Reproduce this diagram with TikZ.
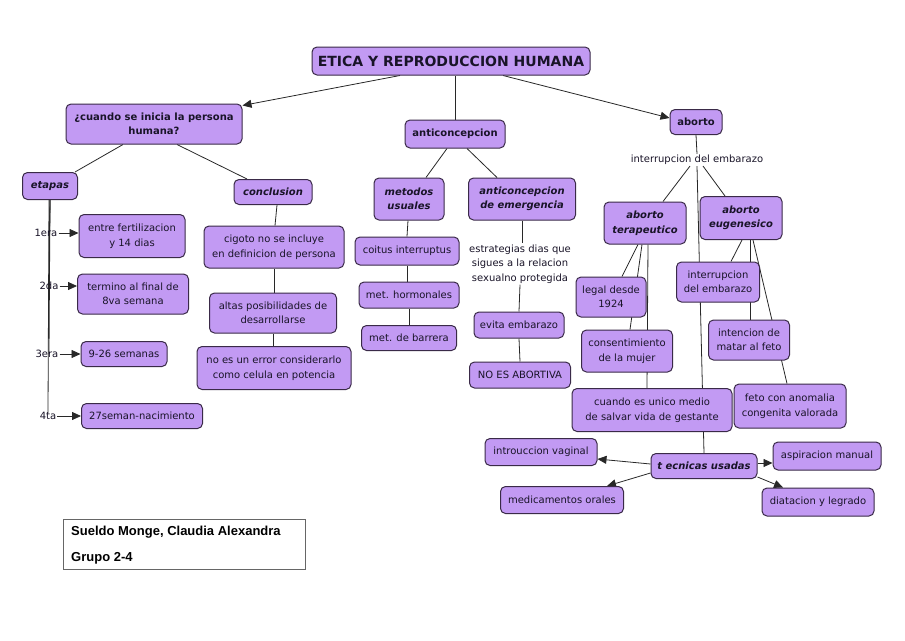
\documentclass[tikz,border=0pt]{standalone}
\usepackage{fontspec}
\setmainfont{DejaVu Sans}
\newfontfamily\authfont{Liberation Sans}
\usetikzlibrary{arrows.meta,backgrounds}
\definecolor{boxfill}{RGB}{194,154,243}
\definecolor{boxline}{RGB}{58,42,72}
\definecolor{txt}{RGB}{25,20,40}
\definecolor{conn}{RGB}{40,40,40}
\tikzset{
  sz/.style 2 args={minimum width=#1pt,minimum height=#2pt},
  box/.style={draw=boxline, line width=1pt, fill=boxfill, rounded corners=5pt,
    align=center, text=txt, inner sep=1pt, font=\fontsize{10}{14.5}\selectfont},
  bbox/.style={box, font=\fontsize{10}{14.5}\selectfont\bfseries},
  ibox/.style={box, font=\fontsize{10}{14.5}\selectfont\bfseries\itshape},
  lbl/.style={align=center, text=txt, inner sep=1pt, font=\fontsize{10}{14.5}\selectfont},
  link/.style={draw=conn, line width=0.8pt},
  arr/.style={link, -{Triangle[length=9pt,width=8pt]}},
}
\begin{document}
\begin{tikzpicture}[x=1pt,y=-1pt]
\useasboundingbox (0,0) rectangle (905,640);
% main nodes
\node[bbox, sz={278}{28}, font=\fontsize{14}{16}\selectfont\bfseries] (title) at (451,61) {ETICA Y REPRODUCCION HUMANA};
\node[bbox, sz={176}{40}] (q) at (154,124) {¿cuando se inicia la persona\\humana?};
\node[bbox, sz={100}{28}] (anti) at (455,134) {anticoncepcion};
\node[bbox, sz={52}{25}] (aborto) at (696,122) {aborto};
\node[lbl] (lab) at (697,160) {interrupcion del embarazo};
\node[ibox, sz={55}{27}] (etapas) at (50,186) {etapas};
\node[ibox, sz={78}{25}] (conc) at (273,192) {conclusion};
\node[ibox, sz={70}{42}] (metodos) at (409,199) {metodos\\usuales};
\node[ibox, sz={107}{42}] (emerg) at (522,199) {anticoncepcion\\de emergencia};
\node[ibox, sz={82}{42}] (terap) at (645,223) {aborto\\terapeutico};
\node[ibox, sz={82}{43}] (eug) at (741,218) {aborto\\eugenesico};
% etapas
\node[lbl] (l1) at (46,233) {1era};
\node[lbl] (l2) at (49,286) {2da};
\node[lbl] (l3) at (47,354) {3era};
\node[lbl] (l4) at (48,416) {4ta};
\node[box, sz={106}{43}] (e1) at (132,236) {entre fertilizacion\\y 14 dias};
\node[box, sz={111}{40}] (e2) at (133,294) {termino al final de\\8va semana};
\node[box, sz={86}{25}] (e3) at (124,354) {9-26 semanas};
\node[box, sz={121}{25}] (e4) at (142,416) {27seman-nacimiento};
% conclusion
\node[box, sz={140}{42}] (cig) at (274,247) {cigoto no se incluye\\en definicion de persona};
\node[box, sz={127}{40}] (altas) at (273,313) {altas posibilidades de\\desarrollarse};
\node[box, sz={154}{43}] (noerr) at (274,368) {no es un error considerarlo\\como celula en potencia};
% metodos
\node[box, sz={104}{28}] (coitus) at (407,251) {coitus interruptus};
\node[box, sz={100}{26}] (horm) at (409,295) {met. hormonales};
\node[box, sz={95}{25}] (barr) at (409,338) {met. de barrera};
% emergencia
\node[lbl] (lab2) at (520,264) {estrategias dias que\\sigues a la relacion\\sexualno protegida};
\node[box, sz={90}{26}] (evita) at (519,325) {evita embarazo};
\node[box, sz={101}{26}] (noab) at (520,375) {NO ES ABORTIVA};
% terapeutico
\node[box, sz={70}{40}] (legal) at (611,297) {legal desde\\1924};
\node[box, sz={91}{42}] (cons) at (627,351) {consentimiento\\de la mujer};
\node[box, sz={160}{43}] (unico) at (652,410) {cuando es unico medio\\de salvar vida de gestante};
% eugenesico
\node[box, sz={83}{40}] (interr) at (718,282) {interrupcion\\del embarazo};
\node[box, sz={81}{40}] (inten) at (749,340) {intencion de\\matar al feto};
\node[box, sz={112}{44}] (feto) at (790,406) {feto con anomalia\\congenita valorada};
% tecnicas
\node[ibox, sz={106}{25}] (tec) at (704,466) {t ecnicas usadas};
\node[box, sz={112}{27}] (intro) at (541,452) {introuccion vaginal};
\node[box, sz={108}{28}] (asp) at (827,456) {aspiracion manual};
\node[box, sz={123}{27}] (med) at (562,500) {medicamentos orales};
\node[box, sz={112}{28}] (diat) at (818,502) {diatacion y legrado};
% author
\node[draw=black!60, line width=0.8pt, sz={242}{50}] (auth) at (184,544) {};
\node[anchor=west, inner sep=0pt, font=\authfont\fontsize{13}{15}\selectfont\bfseries] (a1) at (71,532) {Sueldo Monge, Claudia Alexandra};
\node[anchor=west, inner sep=0pt, font=\authfont\fontsize{13}{15}\selectfont\bfseries] (a2) at (71,558) {Grupo 2-4};

\begin{pgfonlayer}{background}
\fill[white] (0,0) rectangle (905,640);
% title links
\draw[arr] ([xshift=-51pt]title.south) -- ([yshift=-2pt]q.north east);
\draw[link] (anti.north) -- (anti.north |- title.south);
\draw[arr] ([xshift=52pt]title.south) -- ([yshift=4pt]aborto.west);
% cuando
\draw[link] ([xshift=-31pt]q.south) -- ([xshift=25pt]etapas.north);
\draw[link] ([xshift=23pt]q.south) -- ([xshift=-26pt]conc.north);
% etapas
\draw[link] (etapas.south) -- ([xshift=-0.5pt]l1.center -| etapas.south);
\draw[link] (etapas.south) -- ([xshift=-1pt]l2.center -| etapas.south);
\draw[link] (etapas.south) -- ([xshift=-1pt]l3.center -| etapas.south);
\draw[link] ([xshift=-1pt]etapas.south) -- ([xshift=-2pt,yshift=3pt]l4.center -| etapas.south);
\draw[arr] (l1.east) -- ([yshift=3pt]e1.west);
\draw[arr] (l2.east) -- ([yshift=8pt]e2.west);
\draw[arr] (l3.east) -- (e3.west);
\draw[arr] (l4.east) -- (e4.west);
% conclusion
\draw[link] ([xshift=4pt]conc.south) -- ([xshift=1pt]cig.north);
\draw[link] (cig.south) -- (altas.north -| cig.south);
\draw[link] (altas.south) -- (noerr.north -| altas.south);
% anticoncepcion
\draw[link] ([xshift=-8pt]anti.south) -- ([xshift=17pt]metodos.north);
\draw[link] ([xshift=12pt]anti.south) -- ([xshift=-25pt]emerg.north);
\draw[link] ([xshift=-1pt]metodos.south) -- (coitus.north);
\draw[link] (coitus.south) -- ([xshift=-2pt]horm.north);
\draw[link] (horm.south) -- (barr.north);
\draw[link] (emerg.south) -- ([xshift=2pt]lab2.north);
\draw[link] (lab2.south) -- (evita.north);
\draw[link] (evita.south) -- (noab.north);
% aborto
\draw[link] (aborto.south) -- (lab.north);
\draw[link] ([xshift=-7pt]lab.south) -- ([xshift=18pt]terap.north);
\draw[link] ([xshift=6pt]lab.south) -- ([xshift=-16pt]eug.north);
\draw[link] (lab.south) -- (tec.north);
\draw[link] ([xshift=-7pt]terap.south) -- ([xshift=11pt]legal.north);
\draw[link] ([xshift=-3pt]terap.south) -- ([xshift=3pt]cons.north);
\draw[link] ([xshift=3pt]terap.south) -- ([xshift=-5pt]unico.north);
\draw[link] ([xshift=1pt]eug.south) -- ([xshift=13pt]interr.north);
\draw[link] ([xshift=9pt]eug.south) -- ([xshift=1pt]inten.north);
\draw[link] ([xshift=12pt]eug.south) -- ([xshift=-3pt]feto.north);
% tecnicas
\draw[arr] ([yshift=2pt]tec.west) -- ([yshift=-7pt]intro.east);
\draw[arr] ([yshift=-7pt]tec.west) -- ([xshift=45pt]med.north);
\draw[arr] ([yshift=3pt]tec.east) -- ([yshift=-7pt]asp.west);
\draw[arr] ([yshift=2pt]tec.south east) -- ([xshift=-35pt]diat.north);
\end{pgfonlayer}
\end{tikzpicture}
\end{document}
